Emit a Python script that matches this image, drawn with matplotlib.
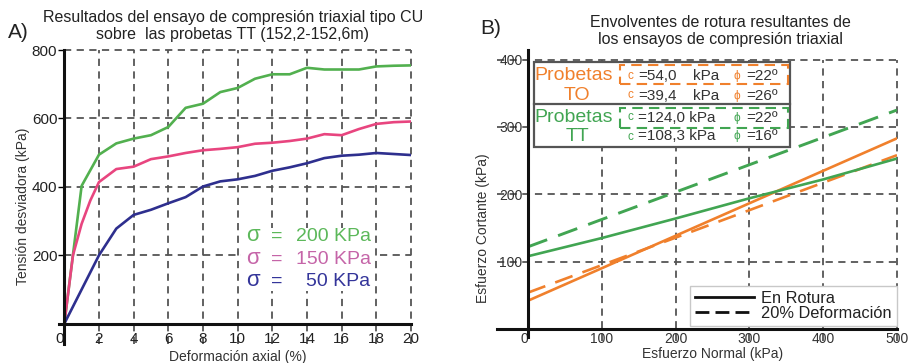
import matplotlib.pyplot as plt
from matplotlib.patches import Rectangle
from matplotlib.lines import Line2D

plt.rcParams['font.family'] = ['Liberation Sans', 'DejaVu Sans']

# ---- Panel A data: deviator stress vs axial strain ----
strain_200 = [0, 1, 2, 3, 4, 5, 6, 7, 8, 9, 10, 11, 12, 13, 14, 15, 16, 17, 18, 19, 20]
dev_200 = [0, 403, 494, 527, 541, 551, 575, 631, 643, 677, 689, 716, 729, 729, 748, 743, 743, 743, 752, 754, 755]
strain_150 = [0, 0.5, 1, 1.5, 2, 3, 4, 5, 6, 7, 8, 9, 10, 11, 12, 13, 14, 15, 16, 17, 18, 19, 20]
dev_150 = [0, 200, 292, 360, 414, 452, 459, 481, 489, 499, 507, 511, 516, 526, 529, 534, 541, 554, 551, 569, 584, 589, 591]
strain_50 = [0, 2, 3, 4, 5, 6, 7, 8, 9, 10, 11, 12, 13, 14, 15, 16, 17, 18, 19, 20]
dev_50 = [0, 200, 278, 318, 333, 352, 370, 401, 416, 422, 432, 447, 457, 469, 484, 491, 494, 499, 496, 493]
confining = [200, 150, 50]
colors_a = ['#52b04f', '#e8457f', '#2e2f8e']
text_colors_a = ['#5cb85a', '#c565a8', '#34359a']

# ---- Panel B data: failure envelopes ----
sigma_n = [0, 500]
tau_to_rotura = [42, 283]
tau_to_20 = [54, 258]
sigma_n_tt = [0, 100, 200, 300, 400, 500]
tau_tt_rotura = [108, 135, 164, 194, 222, 253]
tau_tt_20 = [122, 325]
orange = '#f0802c'
green_b = '#41a552'
grid_c = '#555555'
dash = (0, (4, 3))

fig = plt.figure(figsize=(9.1, 3.63), dpi=100)
fig.patch.set_facecolor('white')


def fx(px):
    return px / 910


def fy(py):
    return 1 - py / 363


# ================= Panel A =================
axA = fig.add_axes([fx(64.3), fy(323.7), (411 - 64.3) / 910, (323.7 - 50) / 363])
axA.set_xlim(0, 20)
axA.set_ylim(0, 800)
for s in axA.spines.values():
    s.set_visible(False)

xt = list(range(0, 21, 2))
yt = [200, 400, 600, 800]
for x in xt[1:]:
    axA.plot([x, x], [-58, 800], color=grid_c, lw=1.3, ls=dash, clip_on=False, zorder=1)
for y in yt:
    axA.plot([0, 20], [y, y], color=grid_c, lw=1.3, ls=dash, clip_on=False, zorder=1)
axA.plot([0, 0], [-60, 800], color='#111111', lw=2.2, clip_on=False, zorder=4)
axA.plot([-0.3, 20], [0, 0], color='#111111', lw=2.2, clip_on=False, zorder=4)

axA.plot(strain_200, dev_200, color=colors_a[0], lw=1.9, zorder=3)
axA.plot(strain_150, dev_150, color=colors_a[1], lw=1.9, zorder=3)
axA.plot(strain_50, dev_50, color=colors_a[2], lw=1.9, zorder=3)

axA.set_xticks(xt)
axA.set_yticks(yt)
axA.tick_params(axis='x', length=0, pad=6, labelsize=11, labelcolor='#222222')
axA.tick_params(axis='y', length=4, width=1, pad=1, labelsize=11, labelcolor='#222222')
axA.get_xticklabels()[0].set_ha('right')

axA.set_xlabel('Deformación axial (%)', fontsize=10, color='#333333')
axA.xaxis.set_label_coords(0.5, -0.095)
axA.set_ylabel('Tensión desviadora (kPa)', fontsize=10, color='#333333')
axA.yaxis.set_label_coords(-0.1, 0.43)

# sigma legend (white patch behind it, as in the original)
axA.add_patch(Rectangle((10.2, 95), 7.7, 185, fc='white', ec='none', zorder=2))
rows_a = [242, 174, 111]
for c3, tc, yb in zip(confining, text_colors_a, rows_a):
    axA.text(10.9, yb, 'σ', fontsize=16, color=tc, ha='center', va='baseline', zorder=5)
    axA.text(12.25, yb, '=', fontsize=14, color=tc, ha='center', va='baseline', zorder=5)
    axA.text(17.67, yb, f'{c3} KPa', fontsize=14, color=tc, ha='right', va='baseline', zorder=5)

fig.text(fx(233), fy(26), 'Resultados del ensayo de compresión triaxial tipo CU\nsobre  las probetas TT (152,2-152,6m)',
         fontsize=11.5, color='#222222', ha='center', va='center', linespacing=1.1)
fig.text(fx(8), fy(32), 'A)', fontsize=15, color='#222222', ha='left', va='center')

# ================= Panel B =================
axB = fig.add_axes([fx(528), fy(329), 369 / 910, (329 - 59.5) / 363])
axB.set_xlim(0, 500)
axB.set_ylim(0, 400)
for s in axB.spines.values():
    s.set_visible(False)

xtb = [0, 100, 200, 300, 400, 500]
ytb = [100, 200, 300, 400]
for x in xtb[1:]:
    axB.plot([x, x], [-18, 400], color=grid_c, lw=1.3, ls=dash, clip_on=False, zorder=1)
for y in ytb:
    axB.plot([-42, 500], [y, y], color=grid_c, lw=1.3, ls=dash, clip_on=False, zorder=1)
axB.plot([0, 0], [-12, 414], color='#111111', lw=2.2, clip_on=False, zorder=4)
axB.plot([-42, 500], [0, 0], color='#111111', lw=2.2, clip_on=False, zorder=4)

axB.plot(sigma_n, tau_to_rotura, color=orange, lw=1.9, zorder=3)
axB.plot(sigma_n, tau_to_20, color=orange, lw=1.9, ls=(0, (7, 4)), zorder=3)
axB.plot(sigma_n_tt, tau_tt_rotura, color=green_b, lw=1.9, zorder=3)
axB.plot(sigma_n, tau_tt_20, color=green_b, lw=2.1, ls=(0, (7, 4)), zorder=3)

axB.set_xticks(xtb)
axB.set_yticks(ytb)
axB.tick_params(axis='x', length=0, pad=2, labelsize=10, labelcolor='#333333')
axB.tick_params(axis='y', length=0, pad=4, labelsize=10, labelcolor='#333333')
axB.get_xticklabels()[0].set_ha('right')

axB.set_xlabel('Esfuerzo Normal (kPa)', fontsize=10, color='#333333')
axB.xaxis.set_label_coords(0.5, -0.065)
axB.set_ylabel('Esfuerzo Cortante (kPa)', fontsize=10, color='#333333')
axB.yaxis.set_label_coords(-0.103, 0.375)

leg = axB.legend(handles=[Line2D([], [], color='#111111', lw=2),
                          Line2D([], [], color='#111111', lw=2, ls=(0, (5, 2.2)))],
                 labels=['En Rotura', '20% Deformación'], loc='lower right',
                 bbox_to_anchor=(1.0, 0.012), borderaxespad=0, fontsize=11.8,
                 handlelength=3.6, handletextpad=0.45, labelspacing=0.0, borderpad=0.3,
                 fancybox=False, edgecolor='#c8c8c8', framealpha=1)
for t in leg.get_texts():
    t.set_color('#222222')

# parameter box
tf = fig.transFigure
axB.add_patch(Rectangle((fx(534), fy(147)), fx(790) - fx(534), fy(62) - fy(147), transform=tf,
                        fc='white', ec='#555555', lw=1.6, zorder=6, clip_on=False))
axB.add_line(Line2D([fx(534), fx(790)], [fy(104), fy(104)], transform=tf, color='#555555',
                    lw=1.6, zorder=7, clip_on=False))
axB.add_patch(Rectangle((fx(620), fy(84.3)), fx(788.3) - fx(620), fy(65) - fy(84.3), transform=tf,
                        fc='none', ec=orange, lw=1.5, ls=(0, (5, 3)), zorder=7, clip_on=False))
axB.add_patch(Rectangle((fx(620), fy(127.7)), fx(788.3) - fx(620), fy(108.3) - fy(127.7), transform=tf,
                        fc='none', ec=green_b, lw=1.5, ls=(0, (5, 3)), zorder=7, clip_on=False))

groups = ['TO', 'TO', 'TT', 'TT']
row_y = [76, 95.5, 117.5, 136.5]
c_vals = ['=54,0', '=39,4', '=124,0 kPa', '=108,3 kPa']
phi_vals = ['=22º', '=26º', '=22º', '=16º']
row_cols = [orange, orange, green_b, green_b]
for i, (yy, cv, pv, col) in enumerate(zip(row_y, c_vals, phi_vals, row_cols)):
    if i % 2 == 0:
        fig.text(fx(573.5), fy(yy), 'Probetas', fontsize=14, color=col, ha='center', va='center', zorder=8)
    else:
        fig.text(fx(577), fy(yy), groups[i], fontsize=14, color=col, ha='center', va='center', zorder=8)
    fig.text(fx(630), fy(yy), 'c', fontsize=8.5, color=col, ha='center', va='center', zorder=8)
    fig.text(fx(638), fy(yy), cv, fontsize=11, color='#333333', ha='left', va='center', zorder=8)
    if 'kPa' not in cv:
        fig.text(fx(692.7), fy(yy), 'kPa', fontsize=11, color='#333333', ha='left', va='center', zorder=8)
    fig.text(fx(736.7), fy(yy), 'ϕ', fontsize=8.5, color=col, ha='center', va='center', zorder=8)
    fig.text(fx(746.7), fy(yy), pv, fontsize=11, color='#333333', ha='left', va='center', zorder=8)

fig.text(fx(720), fy(31), 'Envolventes de rotura resultantes de\nlos ensayos de compresión triaxial',
         fontsize=11.5, color='#222222', ha='center', va='center', linespacing=1.1)
fig.text(fx(480), fy(28), 'B)', fontsize=15, color='#222222', ha='left', va='center')

fig.savefig('out.png', dpi=100, facecolor='white')
